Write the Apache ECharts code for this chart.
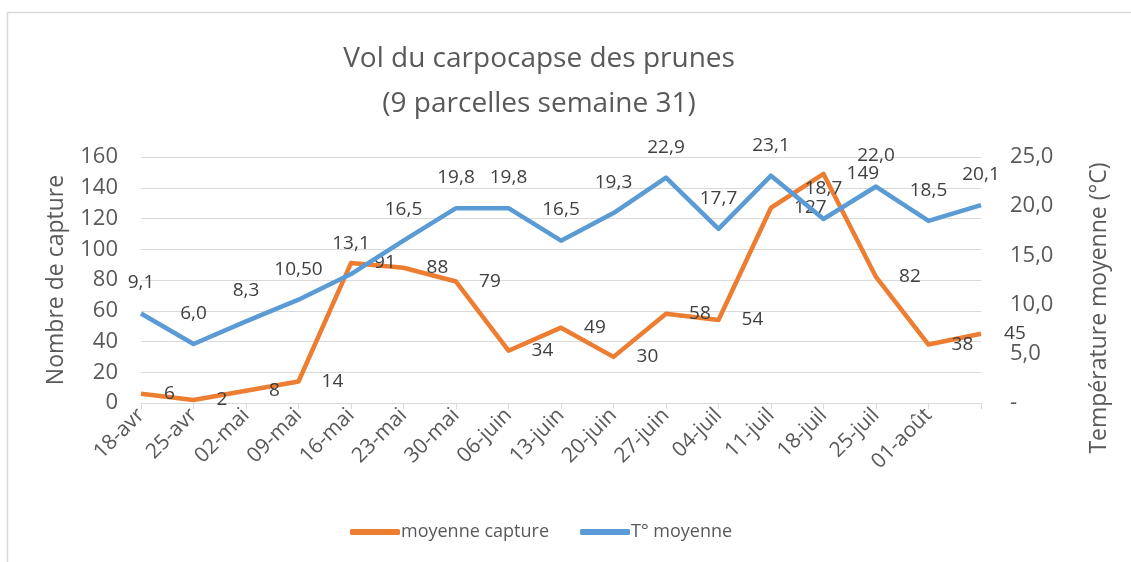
<!DOCTYPE html>
<html>
<head>
<meta charset="utf-8">
<title>Vol du carpocapse des prunes</title>
<script src="https://cdn.jsdelivr.net/npm/echarts@6/dist/echarts.min.js"></script>
<style>
  html, body { margin: 0; padding: 0; background: #fff; }
  #chart { width: 1131px; height: 562px; }
</style>
</head>
<body>
<div id="chart"></div>
<script>
/* Vol du carpocapse des prunes — captures + température */
var weeks = ['18-avr', '25-avr', '02-mai', '09-mai', '16-mai', '23-mai', '30-mai', '06-juin',
  '13-juin', '20-juin', '27-juin', '04-juil', '11-juil', '18-juil', '25-juil', '01-août', ''];
var captures = [6, 2, 8, 14, 91, 88, 79, 34, 49, 30, 58, 54, 127, 149, 82, 38, 45];
var temperatures = [9.1, 6.0, 8.3, 10.5, 13.1, 16.5, 19.8, 19.8, 16.5, 19.3, 22.9, 17.7, 23.1, 18.7, 22.0, 18.5, 20.1];
var tempLabels = ['9,1', '6,0', '8,3', '10,50', '13,1', '16,5', '19,8', '19,8', '16,5', '19,3', '22,9',
  '17,7', '23,1', '18,7', '22,0', '18,5', '20,1'];
var captureTicks = [0, 20, 40, 60, 80, 100, 120, 140, 160];
var tempTicks = [0, 5, 10, 15, 20, 25];

(function () {
  'use strict';
  var el = document.getElementById('chart');
  var chart = echarts.init(el, null, { renderer: 'canvas' });

  var FONT = '"Open Sans", "Noto Sans", sans-serif';
  var TEXT = '#595959';
  var ORANGE = '#ED7D31';
  var BLUE = '#5B9BD5';
  var GRID = '#D9D9D9';

  function fmtTemp(v) {
    return v === 0 ? '-' : v.toFixed(1).replace('.', ',');
  }

  var option = {
    backgroundColor: '#fff',
    animation: false,
    title: {
      text: 'Vol du carpocapse des prunes\n(9 parcelles semaine 31)',
      left: 534,
      top: 32,
      textAlign: 'center',
      textStyle: { fontFamily: FONT, fontSize: 28, fontWeight: 'normal', color: TEXT, lineHeight: 45 }
    },
    legend: {
      bottom: 16,
      left: 345,
      itemWidth: 50,
      itemHeight: 6,
      itemGap: 31,
      icon: 'roundRect',
      textStyle: { fontFamily: FONT, fontSize: 18, color: TEXT, padding: [0, 0, 0, -4] },
      data: ['moyenne capture', 'T° moyenne']
    },
    grid: { left: 141, right: 150, top: 157, bottom: 159 },
    xAxis: {
      type: 'category',
      data: weeks,
      boundaryGap: false,
      axisLine: { lineStyle: { color: GRID, width: 1 } },
      axisTick: { show: true, length: 6, alignWithLabel: true, lineStyle: { color: GRID } },
      axisLabel: {
        interval: 0, rotate: 45, margin: 9,
        fontFamily: FONT, fontSize: 21, color: TEXT
      },
      splitLine: { show: false }
    },
    yAxis: [{
      type: 'value',
      min: captureTicks[0],
      max: captureTicks[captureTicks.length - 1],
      interval: captureTicks[1] - captureTicks[0],
      name: 'Nombre de capture',
      nameLocation: 'middle',
      nameGap: 73,
      nameTextStyle: { fontFamily: FONT, fontSize: 23, color: TEXT },
      axisLine: { show: false },
      axisTick: { show: false },
      axisLabel: { fontFamily: FONT, fontSize: 22, color: TEXT, margin: 23 },
      splitLine: { lineStyle: { color: GRID, width: 1 } }
    }, {
      type: 'value',
      position: 'right',
      min: tempTicks[0],
      max: tempTicks[tempTicks.length - 1],
      interval: tempTicks[1] - tempTicks[0],
      name: 'Température moyenne (°C)',
      nameLocation: 'middle',
      nameGap: 107,
      nameRotate: 90,
      nameTextStyle: { fontFamily: FONT, fontSize: 23, color: TEXT, padding: [0, 56, 0, 0] },
      axisLine: { show: false },
      axisTick: { show: false },
      axisLabel: { fontFamily: FONT, fontSize: 22, color: TEXT, margin: 29, formatter: fmtTemp },
      splitLine: { show: false }
    }],
    series: [{
      name: 'moyenne capture',
      type: 'line',
      yAxisIndex: 0,
      data: captures,
      symbol: 'circle',
      symbolSize: 0.1,
      lineStyle: { color: ORANGE, width: 4.5, join: 'round' },
      itemStyle: { color: ORANGE },
      label: {
        show: true, position: 'right', distance: 23,
        fontFamily: FONT, fontSize: 19, color: '#404040'
      },
      labelLayout: { hideOverlap: false },
      z: 2
    }, {
      name: 'T° moyenne',
      type: 'line',
      yAxisIndex: 1,
      data: temperatures,
      symbol: 'circle',
      symbolSize: 0.1,
      lineStyle: { color: BLUE, width: 4.5, join: 'round' },
      itemStyle: { color: BLUE },
      label: {
        show: true, position: 'top', distance: 21,
        fontFamily: FONT, fontSize: 19, color: '#404040',
        formatter: function (p) { return tempLabels[p.dataIndex]; }
      },
      labelLayout: { hideOverlap: false },
      z: 3
    }],
    graphic: [{
      type: 'polyline',
      silent: true,
      shape: { points: [[7.5, 562], [7.5, 12.5], [1131, 12.5]] },
      style: { stroke: '#D9D9D9', lineWidth: 1.5, fill: null }
    }]
  };

  chart.setOption(option);
  window.addEventListener('resize', function () { chart.resize(); });
})();
</script>
</body>
</html>
